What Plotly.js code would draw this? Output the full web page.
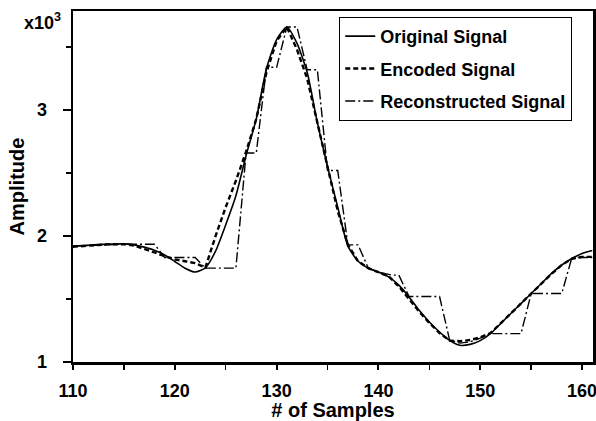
<!DOCTYPE html>
<html>
<head>
<meta charset="utf-8">
<script src="https://cdn.plot.ly/plotly-3.0.1.min.js"></script>
<style>html,body{margin:0;padding:0;background:#fff;}#chart{width:596px;height:421px;}</style>
</head>
<body>
<div id="chart"></div>
<script>
// Sample index
var samples = [110,111,112,113,114,115,116,117,118,119,120,121,122,123,124,125,126,127,128,129,130,
  131,132,133,134,135,136,137,138,139,140,141,142,143,144,145,146,147,148,149,150,
  151,152,153,154,155,156,157,158,159,160,161];

// Amplitude (x10^3)
var originalSignal = [1.920,1.925,1.930,1.934,1.937,1.938,1.930,1.912,1.888,1.850,1.798,
  1.745,1.715,1.748,1.880,2.090,2.320,2.640,2.930,3.330,3.560,
  3.660,3.530,3.300,2.900,2.550,2.230,1.920,1.800,1.745,1.715,
  1.676,1.610,1.517,1.410,1.318,1.238,1.170,1.133,1.140,1.170,
  1.225,1.305,1.385,1.464,1.544,1.623,1.703,1.770,1.822,1.862,1.885];

var encodedSignal = [1.915,1.922,1.928,1.932,1.935,1.935,1.925,1.900,1.870,1.840,1.815,
  1.800,1.785,1.750,2.000,2.230,2.440,2.670,2.930,3.300,3.550,
  3.660,3.480,3.250,2.900,2.550,2.200,1.930,1.800,1.745,1.715,
  1.680,1.600,1.500,1.400,1.310,1.230,1.170,1.165,1.175,1.195,
  1.230,1.305,1.385,1.465,1.545,1.625,1.700,1.770,1.820,1.835,1.835];

var reconSamples = [110,115,118,119,122,123,126,127,128,129,130,131,132,133,134,135,136,137,138,
  139,140,141.3,142,143,146,147,148,149,150,151,154,155,158,159,161];
var reconSignal = [1.920,1.935,1.935,1.830,1.830,1.745,1.745,2.660,2.660,3.340,3.340,3.660,3.660,
  3.320,3.320,2.520,2.520,1.930,1.930,1.745,1.715,1.690,1.690,1.520,1.520,1.170,1.150,1.160,
  1.190,1.225,1.225,1.544,1.544,1.830,1.830];

var seriesNames = ['Original Signal','Encoded Signal','Reconstructed Signal'];
var xTicks = [110,120,130,140,150,160];
var yTicks = [1,2,3];
var yTickText = ['1','2','3'];

var FONT = 'Liberation Sans, Arial, Helvetica, sans-serif';

var traces = [
  {x: samples, y: originalSignal, name: seriesNames[0], mode: 'lines', legendgroup: 'a',
   line: {color: '#000', width: 1.6, shape: 'spline', smoothing: 0.6}},
  {x: samples, y: encodedSignal, name: seriesNames[1], mode: 'lines', legendgroup: 'b',
   line: {color: '#000', width: 2.4, dash: '5px,3px'}},
  {x: reconSamples, y: reconSignal, name: seriesNames[2], mode: 'lines', legendgroup: 'c',
   line: {color: '#000', width: 1.4, dash: '10px,3px,2px,3px'}}
];

var layout = {
  width: 596, height: 421,
  margin: {l: 73, r: 3, t: 11, b: 59, pad: 0},
  paper_bgcolor: '#fff', plot_bgcolor: '#fff',
  font: {family: FONT, color: '#000', size: 18, weight: 'bold'},
  showlegend: true,
  legend: {
    x: 0.512, y: 0.983, xanchor: 'left', yanchor: 'top',
    bgcolor: '#fff', bordercolor: '#000', borderwidth: 1,
    font: {family: FONT, size: 18, color: '#000', weight: 'bold'},
    traceorder: 'grouped', tracegroupgap: 6
  },
  xaxis: {
    range: [110, 161.07], tickvals: xTicks, ticks: 'outside', ticklen: 5, tickwidth: 2,
    tickcolor: '#000', showgrid: false, zeroline: false,
    showline: true, linecolor: '#000', linewidth: 2.5, mirror: true,
    tickfont: {family: FONT, size: 18, weight: 'bold'}, ticklabelstandoff: 6,
    ticklabeloverflow: 'allow',
    minor: {dtick: 5, tick0: 110, ticks: 'outside', ticklen: 5, tickwidth: 1.5, tickcolor: '#000', showgrid: false},
    title: {text: '# of Samples', font: {family: FONT, size: 20, weight: 'bold'}, standoff: 10}
  },
  yaxis: {
    range: [1, 3.787], tickvals: yTicks, ticktext: yTickText, ticks: 'outside', ticklen: 8, tickwidth: 2,
    tickcolor: '#000', showgrid: false, zeroline: false,
    showline: true, linecolor: '#000', linewidth: 2.5, mirror: true,
    tickfont: {family: FONT, size: 18, weight: 'bold'}, ticklabelstandoff: 12,
    minor: {dtick: 0.5, tick0: 1, ticks: 'outside', ticklen: 5, tickwidth: 1.5, tickcolor: '#000', showgrid: false},
    title: {text: 'Amplitude', font: {family: FONT, size: 20, weight: 'bold'}, standoff: 7}
  },
  annotations: [
    {xref: 'paper', yref: 'paper', x: -0.059, y: 0.969, xanchor: 'center', yanchor: 'middle',
     text: 'x10<sup>3</sup>', showarrow: false, font: {family: FONT, size: 18, weight: 'bold', color: '#000'}}
  ]
};

Plotly.newPlot('chart', traces, layout, {displayModeBar: false, staticPlot: true});
</script>
</body>
</html>
